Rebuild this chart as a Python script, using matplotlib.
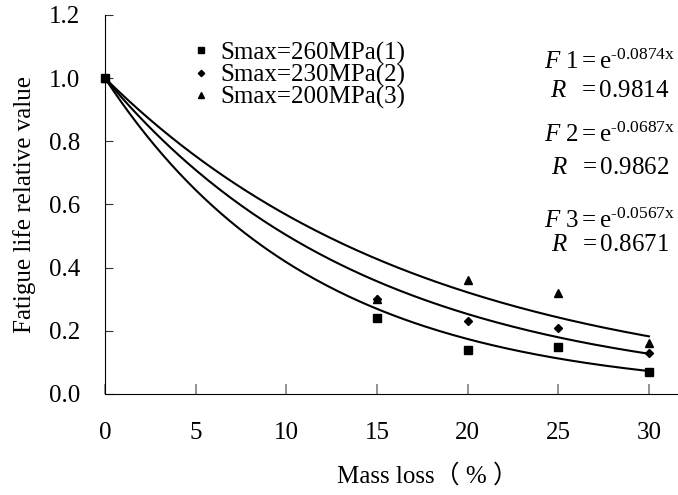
import numpy as np
import matplotlib.pyplot as plt

plt.rcParams['font.family'] = ['Liberation Serif', 'Noto Sans CJK SC']
plt.rcParams['mathtext.fontset'] = 'custom'
plt.rcParams['mathtext.rm'] = 'Liberation Serif'
plt.rcParams['mathtext.it'] = 'Liberation Serif:italic'

# ===== datos =====
mass_loss = [0, 15, 20, 25, 30]
s260 = [1.0, 0.24, 0.14, 0.15, 0.07]
s230 = [1.0, 0.30, 0.23, 0.21, 0.13]
s200 = [1.0, 0.30, 0.36, 0.32, 0.16]
labels = ['Smax=260MPa(1)', 'Smax=230MPa(2)', 'Smax=200MPa(3)']
coefs = [0.0874, 0.0687, 0.0567]
r_vals = ['0.9814', '0.9862', '0.8671']

FS = 18

fig = plt.figure(figsize=(6.78, 4.95), dpi=100)
ax = fig.add_axes([105/678, 1 - 394/495, 573/678, 379/495])

markers = ['s', 'D', '^']
sizes = [5.5, 4.0, 5.5]
for ys, m, ms, lab in zip([s260, s230, s200], markers, sizes, labels):
    ax.plot(mass_loss, ys, linestyle='none', marker=m, markersize=ms,
            color='black', label=lab, clip_on=False, zorder=3)

# curvas de ajuste F = e^(-k x)
xx = np.linspace(0, 30, 200)
for k in coefs:
    ax.plot(xx, np.exp(-k * xx), color='black', lw=1.5)

ax.set_xlim(0, 31.6)
ax.set_ylim(0, 1.2)
ax.set_xticks([0, 5, 10, 15, 20, 25, 30])
ax.set_yticks([0.0, 0.2, 0.4, 0.6, 0.8, 1.0, 1.2])
ax.set_yticklabels(['%.1f' % v for v in ax.get_yticks()])
ax.spines['top'].set_visible(False)
ax.spines['right'].set_visible(False)
ax.tick_params(axis='x', direction='in', length=7, width=1.2, color='gray',
               pad=20, labelsize=FS)
ax.tick_params(axis='y', direction='in', length=6, width=0.8, color='#333333',
               pad=18, labelsize=FS)

ax.set_xlabel('Mass loss（ % ）', fontsize=FS, va='top')
ax.xaxis.set_label_coords(0.563, -0.185)
ax.set_ylabel('Fatigue life relative value', fontsize=FS, va='center')
ax.yaxis.set_label_coords(-0.141, 0.5)

leg = ax.legend(loc='upper left', bbox_to_anchor=(0.155, 0.93), frameon=False,
                fontsize=FS, handlelength=0.6, handletextpad=0.45,
                labelspacing=-0.04, borderpad=0, borderaxespad=0,
                markerscale=0.8)

# ecuaciones
eq_y = [62, 135, 221]
r_y = [91, 168, 245]
for i, (k, r, y, ry) in enumerate(zip(coefs, r_vals, eq_y, r_y)):
    fig.text(610/678, 1 - y/495,
             r'$F\ %d = \mathrm{e}^{\text{-%.4fx}}$' % (i + 1, k),
             fontsize=FS, ha='center', va='center')
    fig.text(610/678, 1 - ry/495, r'$R\ \ = \mathrm{%s}$' % r,
             fontsize=FS, ha='center', va='center')

fig.savefig('out.png', dpi=100)
